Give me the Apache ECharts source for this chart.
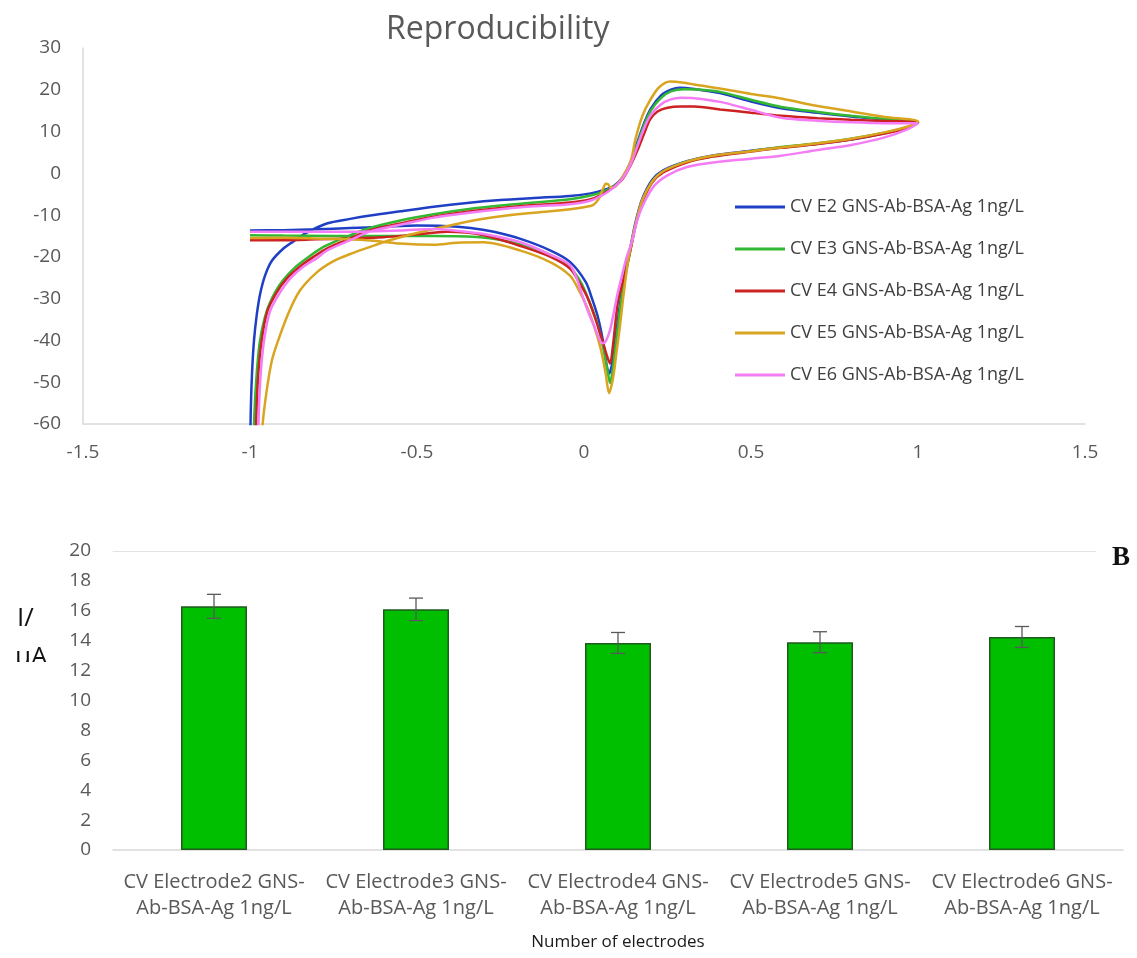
<!DOCTYPE html>
<html>
<head>
<meta charset="utf-8">
<title>Reproducibility</title>
<script src="https://cdn.jsdelivr.net/npm/echarts@6/dist/echarts.min.js"></script>
<style>
  html, body { margin: 0; padding: 0; background: #fff; }
  #chart { width: 1137px; height: 958px; }
</style>
</head>
<body>
<div id="chart"></div>
<script>
// CV curves: [potential, current], forward scan then reverse scan
var cvE2 = [
  [-1.000,-70],[-0.998,-58],[-0.994,-48],[-0.988,-40],[-0.98,-34],[-0.97,-29],[-0.955,-24.5],[-0.935,-21],
  [-0.9,-18],[-0.87,-16.3],[-0.83,-14.2],[-0.77,-12],[-0.7,-10.9],[-0.64,-10.1],[-0.55,-9.1],[-0.45,-8],
  [-0.35,-7.1],[-0.25,-6.4],[-0.15,-5.9],[-0.042,-5.4],[0.02,-4.8],[0.06,-4],[0.09,-3],[0.115,-1],
  [0.14,2.8],[0.16,7.5],[0.18,12],[0.2,15.5],[0.23,18.6],[0.26,20],[0.287,20.5],[0.33,20.2],[0.407,19.2],
  [0.5,17.2],[0.59,15.6],[0.7,14.5],[0.8,13.6],[0.9,12.9],[1.0,12.2],
  [0.97,11],[0.9,9.6],[0.8,8.1],[0.7,7.1],[0.59,6.2],[0.5,5.4],[0.386,4.3],[0.308,2.9],[0.237,0.7],
  [0.204,-1.6],[0.174,-6.2],[0.155,-11.5],[0.138,-18],[0.122,-24],[0.11,-30],[0.1,-36],[0.09,-42],
  [0.082,-46.5],[0.075,-47.9],[0.068,-46],[0.057,-40.2],[0.042,-34.5],[0.024,-30],[0.005,-26],[-0.042,-21.2],
  [-0.1,-18.5],[-0.19,-15.7],[-0.27,-14],[-0.34,-13.1],[-0.42,-12.6],[-0.5,-12.5],[-0.6,-12.8],[-0.7,-13.1],
  [-0.8,-13.4],[-0.9,-13.6],[-1.0,-13.7]
];
var cvE3 = [
  [-0.99,-70],[-0.987,-58],[-0.98,-48],[-0.97,-40],[-0.95,-33],[-0.925,-28.5],[-0.9,-25.5],[-0.865,-22.5],
  [-0.83,-20.3],[-0.78,-17.6],[-0.73,-15.8],[-0.65,-13.3],[-0.55,-11.3],[-0.45,-9.8],[-0.35,-8.6],[-0.25,-7.7],
  [-0.15,-7],[-0.042,-6.2],[0.02,-5.3],[0.06,-4.3],[0.09,-3.1],[0.115,-1.2],[0.14,2.4],[0.16,7],[0.18,11.5],
  [0.2,15],[0.23,18],[0.26,19.6],[0.3,20.1],[0.35,20],[0.407,19.5],[0.5,17.6],[0.59,15.9],[0.7,14.7],
  [0.8,13.8],[0.9,13],[1.0,12.3],
  [0.97,11.1],[0.9,9.7],[0.8,8.3],[0.7,7.2],[0.59,6.3],[0.5,5.3],[0.386,4.1],[0.308,2.8],[0.237,0.4],
  [0.204,-2],[0.174,-6.8],[0.155,-12],[0.14,-18],[0.125,-24],[0.112,-30],[0.101,-37],[0.092,-43],[0.084,-48],
  [0.078,-50.2],[0.072,-48],[0.058,-42],[0.04,-36],[0.015,-30.5],[-0.01,-26],[-0.042,-22.5],[-0.1,-19.5],
  [-0.19,-17],[-0.31,-15.3],[-0.45,-15],[-0.6,-15],[-0.75,-15],[-0.9,-14.9],[-1.0,-14.8]
];
var cvE4 = [
  [-0.984,-70],[-0.981,-58],[-0.975,-48],[-0.965,-40],[-0.948,-33],[-0.92,-28.5],[-0.89,-25.2],[-0.85,-22.3],
  [-0.81,-20],[-0.77,-18],[-0.7,-15.6],[-0.64,-13.6],[-0.55,-12],[-0.45,-10.4],[-0.35,-9.2],[-0.25,-8.3],
  [-0.15,-7.6],[-0.042,-7],[0.02,-6.2],[0.06,-4.8],[0.09,-3.2],[0.115,-1.4],[0.14,2],[0.16,5.5],[0.18,9.5],
  [0.198,12.9],[0.22,14.8],[0.25,15.7],[0.29,16],[0.33,16],[0.407,15.3],[0.5,14.5],[0.59,13.8],[0.7,13.2],
  [0.8,12.8],[0.9,12.5],[1.0,12.2],
  [0.97,10.9],[0.9,9.5],[0.8,8.1],[0.7,7],[0.59,6.1],[0.5,5.2],[0.386,4],[0.308,2.6],[0.237,0.2],
  [0.204,-2.2],[0.174,-7],[0.155,-12.3],[0.14,-18],[0.126,-23],[0.113,-27],[0.102,-30.5],[0.095,-35],
  [0.087,-41],[0.078,-45.5],[0.07,-44],[0.055,-40],[0.035,-35],[0.012,-30],[-0.015,-26],[-0.042,-22.8],
  [-0.1,-20],[-0.19,-17.4],[-0.3,-14.8],[-0.41,-14],[-0.5,-14.6],[-0.6,-15.3],[-0.7,-15.6],[-0.8,-15.8],
  [-0.9,-16],[-1.0,-16]
];
var cvE5 = [
  [-0.965,-70],[-0.962,-60],[-0.95,-52],[-0.935,-45],[-0.92,-41],[-0.885,-33.5],[-0.85,-28],[-0.8,-23.7],
  [-0.75,-21],[-0.7,-19.3],[-0.64,-17.6],[-0.59,-16.2],[-0.5,-14.3],[-0.42,-12.8],[-0.31,-11],[-0.2,-9.8],
  [-0.1,-9.1],[-0.042,-8.6],[0.0,-8.1],[0.027,-7.6],[0.045,-6],[0.058,-3.5],[0.065,-2.5],[0.072,-2.6],
  [0.08,-3.4],[0.095,-3.1],[0.118,-0.5],[0.14,3],[0.155,8.5],[0.175,13.8],[0.198,17.5],[0.225,20.6],
  [0.257,22],[0.3,21.7],[0.35,21],[0.407,20.3],[0.5,19],[0.59,17.9],[0.7,16.1],[0.8,14.8],[0.9,13.5],[1.0,12.4],
  [0.97,11.2],[0.9,9.8],[0.8,8.3],[0.7,7.2],[0.59,6.2],[0.5,5.3],[0.386,4.2],[0.308,2.8],[0.237,0.5],
  [0.204,-2],[0.174,-6.5],[0.155,-12],[0.14,-17.5],[0.13,-22],[0.117,-30],[0.107,-37],[0.097,-43],
  [0.087,-49],[0.075,-52.6],[0.065,-48],[0.05,-42],[0.03,-36.5],[0.009,-32],[-0.015,-28],[-0.042,-24.5],
  [-0.1,-21.3],[-0.19,-18.5],[-0.3,-16.5],[-0.38,-16.6],[-0.45,-17.1],[-0.55,-16.8],[-0.65,-16],
  [-0.8,-15.6],[-0.9,-15.4],[-1.0,-15.5]
];
var cvE6 = [
  [-0.977,-70],[-0.974,-58],[-0.968,-48],[-0.958,-40],[-0.94,-33],[-0.91,-28.5],[-0.88,-25.2],[-0.84,-22.3],
  [-0.8,-20.3],[-0.77,-18.5],[-0.7,-16],[-0.64,-13.9],[-0.55,-12.3],[-0.45,-10.6],[-0.35,-9.5],[-0.25,-8.6],
  [-0.15,-7.9],[-0.042,-7.4],[0.02,-6.5],[0.06,-5],[0.09,-3.3],[0.115,-1.3],[0.14,2.2],[0.16,6.5],[0.18,10.8],
  [0.2,14],[0.23,16.5],[0.26,17.7],[0.29,18.1],[0.33,18],[0.407,17.1],[0.5,15.2],[0.59,13.3],[0.7,12.6],
  [0.8,12.2],[0.9,12],[1.0,12],
  [0.97,10.6],[0.9,8.6],[0.8,6.8],[0.7,5.6],[0.59,4.2],[0.5,3.5],[0.386,2.6],[0.308,1.5],[0.25,-0.5],
  [0.21,-3],[0.18,-7],[0.16,-11],[0.145,-16],[0.128,-20],[0.112,-25],[0.1,-29],[0.09,-33],[0.078,-37.5],
  [0.065,-40.2],[0.056,-40.7],[0.048,-40],[0.03,-36.5],[0.012,-33],[-0.006,-29],[-0.02,-25.5],[-0.042,-22],
  [-0.1,-19.5],[-0.19,-16.5],[-0.3,-14.5],[-0.41,-13.5],[-0.45,-13.3],[-0.55,-13.7],[-0.65,-13.9],
  [-0.8,-14],[-0.9,-14],[-1.0,-14]
];
var cvNames = [
  'CV E2 GNS-Ab-BSA-Ag 1ng/L',
  'CV E3 GNS-Ab-BSA-Ag 1ng/L',
  'CV E4 GNS-Ab-BSA-Ag 1ng/L',
  'CV E5 GNS-Ab-BSA-Ag 1ng/L',
  'CV E6 GNS-Ab-BSA-Ag 1ng/L'
];
var cvColors = ['#1f3fc4', '#33b833', '#cc2222', '#d9a521', '#f47cf4'];

// bar chart
var electrodes = [
  'CV Electrode2 GNS-Ab-BSA-Ag 1ng/L',
  'CV Electrode3 GNS-Ab-BSA-Ag 1ng/L',
  'CV Electrode4 GNS-Ab-BSA-Ag 1ng/L',
  'CV Electrode5 GNS-Ab-BSA-Ag 1ng/L',
  'CV Electrode6 GNS-Ab-BSA-Ag 1ng/L'
];
var peakCurrent = [16.3, 16.1, 13.85, 13.9, 14.25];
var peakError = [0.8, 0.75, 0.7, 0.7, 0.7];

var font = 'Open Sans';
var myChart = echarts.init(document.getElementById('chart'));

var cvData = [cvE2, cvE3, cvE4, cvE5, cvE6];
var lineSeries = cvData.map(function (d, i) {
    return {
        name: cvNames[i],
        type: 'line',
        xAxisIndex: 0,
        yAxisIndex: 0,
        data: d,
        smooth: 0.3,
        symbol: 'none',
        clip: true,
        color: cvColors[i],
        lineStyle: { width: 2.5, color: cvColors[i] }
    };
});

var errData = peakCurrent.map(function (v, i) {
    return [i, v - peakError[i], v + peakError[i]];
});

var option = {
    animation: false,
    backgroundColor: '#fff',
    textStyle: { fontFamily: font },
    title: {
        text: 'Reproducibility',
        left: 381,
        top: 9,
        textStyle: { fontSize: 32, fontWeight: 'normal', color: '#595959', fontFamily: font }
    },
    legend: {
        data: cvNames,
        orient: 'vertical',
        left: 730,
        top: 191,
        icon: 'rect',
        itemWidth: 50,
        itemHeight: 3,
        itemGap: 20,
        textStyle: { fontSize: 18, color: '#404040', lineHeight: 22, fontFamily: font }
    },
    grid: [
        { left: 83, right: 52, top: 48, bottom: 534 },
        { left: 113, right: 14, top: 551, bottom: 108 }
    ],
    xAxis: [
        {
            gridIndex: 0,
            type: 'value',
            min: -1.5,
            max: 1.5,
            interval: 0.5,
            axisLine: { show: true, onZero: false, lineStyle: { color: '#d9d9d9', width: 1.5 } },
            axisTick: { show: false },
            splitLine: { show: false },
            axisLabel: { color: '#595959', fontSize: 19, margin: 19 }
        },
        {
            gridIndex: 1,
            type: 'category',
            data: electrodes,
            axisLine: { show: true, lineStyle: { color: '#d9d9d9', width: 1.5 } },
            axisTick: { show: false },
            axisLabel: {
                interval: 0,
                color: '#595959',
                fontSize: 20,
                lineHeight: 26,
                margin: 19,
                formatter: function (v) { return v.replace('GNS-', 'GNS-\n'); }
            },
            name: 'Number of electrodes',
            nameLocation: 'middle',
            nameGap: 84,
            nameTextStyle: { fontSize: 17, color: '#1a1a1a' }
        },
        {
            gridIndex: 1,
            type: 'category',
            position: 'top',
            data: electrodes,
            axisLine: { show: true, lineStyle: { color: '#e3e3e3', width: 1 } },
            axisTick: { show: false },
            axisLabel: { show: false }
        }
    ],
    yAxis: [
        {
            gridIndex: 0,
            type: 'value',
            min: -60,
            max: 30,
            interval: 10,
            axisLine: { show: true, onZero: false, lineStyle: { color: '#d9d9d9', width: 1.5 } },
            axisTick: { show: false },
            splitLine: { show: false },
            axisLabel: { color: '#595959', fontSize: 19, margin: 22 }
        },
        {
            gridIndex: 1,
            type: 'value',
            min: 0,
            max: 20,
            interval: 2,
            axisLine: { show: false },
            axisTick: { show: false },
            splitLine: { show: false },
            axisLabel: { color: '#595959', fontSize: 19, margin: 22 }
        }
    ],
    series: lineSeries.concat([
        {
            type: 'bar',
            xAxisIndex: 1,
            yAxisIndex: 1,
            data: peakCurrent,
            barWidth: 66,
            itemStyle: { color: '#00bf00', borderColor: '#1f5a1f', borderWidth: 1.5 }
        },
        {
            type: 'custom',
            xAxisIndex: 1,
            yAxisIndex: 1,
            data: errData,
            encode: { x: 0, y: [1, 2] },
            z: 5,
            renderItem: function (params, api) {
                var i = api.value(0);
                var lo = api.coord([i, api.value(1)]);
                var hi = api.coord([i, api.value(2)]);
                var half = 7;
                var st = { stroke: '#595959', lineWidth: 1.3 };
                return {
                    type: 'group',
                    children: [
                        { type: 'line', shape: { x1: hi[0], y1: hi[1], x2: lo[0], y2: lo[1] }, style: st },
                        { type: 'line', shape: { x1: hi[0] - half, y1: hi[1], x2: hi[0] + half, y2: hi[1] }, style: st },
                        { type: 'line', shape: { x1: lo[0] - half, y1: lo[1], x2: lo[0] + half, y2: lo[1] }, style: st }
                    ]
                };
            }
        }
    ]),
    graphic: [
        { type: 'text', left: 17, top: 606, style: { text: 'I/', fontSize: 26, fill: '#111', fontFamily: font } },
        { type: 'text', left: 15, top: 645, z: 10, style: { text: 'μA', fontSize: 26, fill: '#111', fontFamily: font } },
        { type: 'rect', left: 5, top: 662, z: 20, shape: { width: 55, height: 40 }, style: { fill: '#fff' } },
        { type: 'rect', left: 1096, top: 546, z: 20, shape: { width: 41, height: 28 }, style: { fill: '#fff' } },
        { type: 'text', left: 1112, top: 545, z: 21, style: { text: 'B', fontSize: 27, fontWeight: 'bold', fill: '#111', fontFamily: 'Liberation Serif' } }
    ]
};

myChart.setOption(option);
window.addEventListener('resize', function () {
    myChart.resize();
});
</script>
</body>
</html>
